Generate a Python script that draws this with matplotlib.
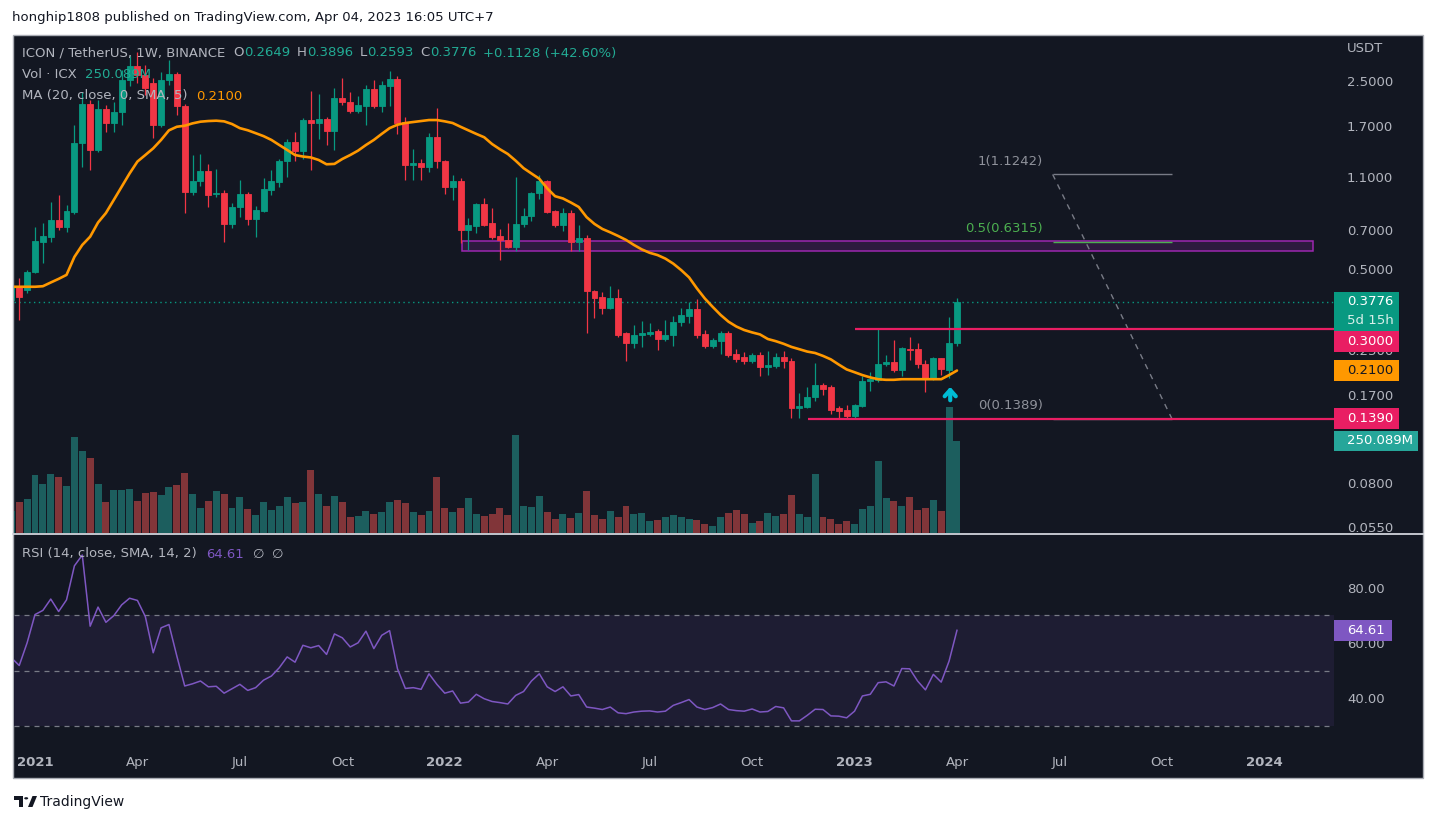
import numpy as np
import pandas as pd
import matplotlib
matplotlib.use("Agg")
import matplotlib.pyplot as plt
import matplotlib.dates as mdates
from matplotlib.patches import Rectangle, Circle, Polygon
from matplotlib.lines import Line2D
from matplotlib.ticker import NullLocator, FixedLocator, FixedFormatter

plt.rcParams['font.family'] = ['DejaVu Sans']

# ---------------- data (weekly ICX/USDT, Binance) ----------------
first_week = "2020-12-14"
opens = [0.385, 0.432, 0.418, 0.486, 0.632, 0.660, 0.761, 0.717, 0.817, 1.467,
         2.05, 1.386, 1.97, 1.74, 1.92, 2.52, 2.85, 2.63, 2.45, 1.72,
         2.52, 2.66, 2.01, 0.97, 1.063, 1.158, 0.951, 0.963, 0.736, 0.848,
         0.951, 0.766, 0.822, 0.984, 1.057, 1.262, 1.484, 1.378, 1.79, 1.74,
         1.80, 1.63, 2.16, 2.09, 1.94, 2.02, 2.34, 2.02, 2.40, 2.54,
         1.76, 1.222, 1.237, 1.20, 1.548, 1.26, 1.012, 1.063, 0.699, 0.722,
         0.873, 0.740, 0.665, 0.642, 0.606, 0.733, 0.785, 0.96, 1.063, 0.82,
         0.729, 0.808, 0.629, 0.65, 0.415, 0.393, 0.36, 0.39, 0.289, 0.266,
         0.284, 0.287, 0.295, 0.275, 0.284, 0.319, 0.336, 0.356, 0.287, 0.259,
         0.271, 0.29, 0.242, 0.235, 0.228, 0.240, 0.217, 0.219, 0.235, 0.228,
         0.152, 0.154, 0.168, 0.185, 0.182, 0.152, 0.150, 0.142, 0.155, 0.192,
         0.194, 0.222, 0.226, 0.211, 0.252, 0.252, 0.223, 0.196, 0.233, 0.211,
         0.2649]
highs = [0.44, 0.462, 0.496, 0.718, 0.742, 0.891, 0.943, 0.866, 1.72, 2.27,
         2.12, 2.12, 2.04, 2.08, 2.75, 3.1, 3.2, 2.87, 2.57, 2.70,
         2.99, 2.70, 2.06, 1.327, 1.338, 1.23, 1.178, 0.984, 0.88, 1.072,
         0.968, 0.858, 1.09, 1.168, 1.283, 1.52, 1.62, 1.82, 2.29, 2.24,
         1.83, 2.35, 2.57, 2.28, 2.20, 2.42, 2.52, 2.51, 2.72, 2.61,
         1.84, 1.397, 1.283, 1.60, 1.99, 1.272, 1.119, 1.09, 0.775, 0.884,
         0.92, 0.843, 0.705, 0.742, 1.10, 0.843, 0.97, 1.119, 1.072, 0.829,
         0.843, 0.83, 0.729, 0.67, 0.42, 0.41, 0.433, 0.422, 0.291, 0.31,
         0.321, 0.315, 0.30, 0.324, 0.335, 0.358, 0.377, 0.388, 0.297, 0.278,
         0.295, 0.295, 0.252, 0.246, 0.244, 0.246, 0.248, 0.243, 0.248, 0.234,
         0.173, 0.183, 0.224, 0.188, 0.185, 0.155, 0.156, 0.158, 0.20, 0.208,
         0.30, 0.240, 0.273, 0.257, 0.280, 0.266, 0.230, 0.236, 0.234, 0.333,
         0.3896]
lows = [0.375, 0.324, 0.408, 0.482, 0.527, 0.632, 0.699, 0.689, 0.80, 1.20,
        1.168, 1.36, 1.615, 1.61, 1.72, 2.4, 2.45, 2.22, 1.535, 1.69,
        2.42, 1.87, 0.81, 0.943, 1.015, 0.852, 0.93, 0.632, 0.71, 0.784,
        0.729, 0.660, 0.817, 0.943, 1.012, 1.10, 1.265, 1.283, 1.168, 1.52,
        1.44, 1.386, 2.04, 1.90, 1.90, 1.72, 1.99, 1.92, 2.01, 1.59,
        1.073, 1.073, 1.073, 1.148, 1.19, 0.952, 0.904, 0.624, 0.589, 0.683,
        0.722, 0.647, 0.541, 0.60, 0.584, 0.717, 0.757, 0.91, 0.81, 0.717,
        0.695, 0.584, 0.584, 0.289, 0.33, 0.34, 0.356, 0.28, 0.228, 0.255,
        0.257, 0.281, 0.250, 0.27, 0.26, 0.308, 0.315, 0.278, 0.255, 0.255,
        0.242, 0.236, 0.225, 0.222, 0.224, 0.20, 0.202, 0.215, 0.215, 0.1405,
        0.1405, 0.152, 0.162, 0.170, 0.145, 0.139, 0.1389, 0.140, 0.154, 0.177,
        0.19, 0.218, 0.207, 0.20, 0.230, 0.215, 0.175, 0.193, 0.203, 0.197,
        0.2593]
closes = [0.430, 0.395, 0.489, 0.637, 0.663, 0.761, 0.717, 0.822, 1.467, 2.05,
          1.386, 1.97, 1.74, 1.92, 2.52, 2.85, 2.63, 2.35, 1.72, 2.52,
          2.66, 2.01, 0.97, 1.063, 1.158, 0.943, 0.963, 0.736, 0.852, 0.951,
          0.766, 0.829, 0.99, 1.063, 1.262, 1.484, 1.378, 1.79, 1.74, 1.80,
          1.63, 2.16, 2.09, 1.94, 2.04, 2.34, 2.02, 2.42, 2.54, 1.75,
          1.219, 1.237, 1.20, 1.548, 1.26, 1.012, 1.063, 0.699, 0.729, 0.873,
          0.729, 0.660, 0.642, 0.606, 0.736, 0.789, 0.963, 1.063, 0.817, 0.729,
          0.808, 0.629, 0.65, 0.413, 0.392, 0.36, 0.39, 0.285, 0.266, 0.285,
          0.289, 0.293, 0.275, 0.285, 0.319, 0.338, 0.356, 0.285, 0.259, 0.273,
          0.29, 0.240, 0.231, 0.228, 0.240, 0.217, 0.220, 0.235, 0.227, 0.152,
          0.155, 0.168, 0.185, 0.180, 0.150, 0.149, 0.142, 0.156, 0.192, 0.196,
          0.222, 0.226, 0.211, 0.255, 0.250, 0.222, 0.196, 0.233, 0.213, 0.2649,
          0.3776]
volumes_m = [60.7, 85.2, 93.3, 158.6, 134.1, 161.3, 153.1, 128.7, 261.9, 223.8,
             204.8, 134.1, 85.2, 117.8, 117.8, 120.5, 87.9, 109.6, 112.4, 104.2,
             126.0, 131.4, 164.0, 106.9, 68.9, 87.9, 115.1, 106.9, 68.9, 98.8,
             66.1, 49.8, 85.2, 63.4, 74.3, 98.8, 82.5, 85.2, 172.2, 106.9,
             74.3, 101.5, 85.2, 44.4, 47.1, 60.7, 52.6, 58.0, 85.2, 90.6,
             82.5, 58.0, 49.8, 60.7, 153.1, 68.9, 58.0, 68.9, 96.0, 52.6,
             47.1, 52.5, 68.8, 49.8, 267.2, 74.3, 71.6, 101.4, 58.0, 38.9,
             52.5, 41.7, 55.3, 115.0, 49.8, 38.9, 60.7, 44.4, 74.3, 52.5,
             55.3, 33.5, 36.2, 44.4, 49.8, 44.4, 38.9, 36.2, 25.4, 19.9,
             44.4, 55.3, 63.4, 52.5, 28.1, 33.5, 55.3, 47.1, 52.5, 104.2,
             52.5, 44.4, 161.2, 44.4, 38.9, 25.4, 33.5, 25.4, 66.1, 74.3,
             196.6, 96.0, 87.9, 74.3, 98.7, 63.4, 68.8, 90.6, 60.7, 342.0,
             250.089]
ma20 = [0.430, 0.430, 0.430, 0.430, 0.432, 0.446, 0.46, 0.476, 0.555, 0.615,
        0.660, 0.745, 0.808, 0.904, 1.012, 1.133, 1.255, 1.327, 1.405, 1.51,
        1.639, 1.69, 1.705, 1.74, 1.765, 1.775, 1.78, 1.77, 1.73, 1.67,
        1.64, 1.60, 1.56, 1.51, 1.446, 1.386, 1.327, 1.31, 1.30, 1.272,
        1.226, 1.23, 1.283, 1.327, 1.378, 1.446, 1.51, 1.59, 1.67, 1.72,
        1.745, 1.76, 1.775, 1.79, 1.79, 1.77, 1.745, 1.69, 1.639, 1.59,
        1.545, 1.458, 1.394, 1.339, 1.264, 1.186, 1.133, 1.083, 0.998, 0.933,
        0.915, 0.884, 0.851, 0.780, 0.736, 0.705, 0.685, 0.664, 0.642, 0.615,
        0.592, 0.575, 0.564, 0.547, 0.524, 0.496, 0.466, 0.424, 0.389, 0.362,
        0.338, 0.319, 0.306, 0.297, 0.291, 0.286, 0.275, 0.270, 0.264, 0.257,
        0.252, 0.247, 0.244, 0.238, 0.231, 0.221, 0.212, 0.207, 0.202, 0.198,
        0.195, 0.194, 0.194, 0.195, 0.195, 0.195, 0.195, 0.195, 0.195, 0.202,
        0.210]
rsi14 = [54.7, 51.9, 60.1, 70.3, 71.8, 75.9, 71.4, 75.6, 87.9, 91.8,
         66.1, 73.0, 67.5, 69.9, 73.8, 76.2, 75.4, 69.6, 56.5, 65.5,
         66.7, 55.3, 44.5, 45.3, 46.3, 44.2, 44.4, 41.9, 43.5, 45.1,
         42.9, 43.9, 46.6, 48.1, 51.1, 55.0, 53.1, 59.2, 58.3, 59.1,
         55.9, 63.3, 61.9, 58.6, 60.1, 64.3, 58.0, 62.8, 64.5, 50.7,
         43.6, 43.9, 43.3, 48.9, 45.1, 41.9, 42.7, 38.3, 38.7, 41.5,
         39.9, 38.9, 38.5, 38.0, 41.1, 42.5, 46.3, 48.9, 44.2, 42.5,
         44.2, 40.9, 41.4, 36.9, 36.5, 36.0, 36.9, 34.8, 34.5, 35.1,
         35.4, 35.5, 35.1, 35.4, 37.5, 38.5, 39.6, 36.9, 36.0, 36.7,
         38.0, 36.0, 35.6, 35.4, 36.2, 35.1, 35.3, 37.1, 36.6, 31.9,
         31.9, 33.9, 36.1, 36.0, 33.7, 33.6, 33.0, 35.4, 40.9, 41.5,
         45.7, 46.0, 44.5, 50.8, 50.7, 46.3, 43.1, 48.7, 45.9, 53.5,
         64.61]

price_ticks = [2.5, 1.7, 1.1, 0.7, 0.5, 0.25, 0.17, 0.08, 0.055]
rsi_ticks = [40, 60, 80]
time_ticks = ["2021-01-04", "2021-04-05", "2021-07-05", "2021-10-04", "2022-01-03",
              "2022-04-04", "2022-07-04", "2022-10-03", "2023-01-02", "2023-04-03",
              "2023-07-03", "2023-10-02", "2024-01-01"]
time_labels = ["2021", "Apr", "Jul", "Oct", "2022", "Apr", "Jul", "Oct", "2023", "Apr",
               "Jul", "Oct", "2024"]

# drawings
zone_start, zone_end = "2022-01-18", "2024-02-13"
zone_low, zone_high = 0.582, 0.636
level_300, level_300_start = 0.3000, "2023-01-02 12:00"
level_139, level_139_start = 0.1390, "2022-11-22"
fib_start, fib_end = "2023-06-27", "2023-10-11"
fib_levels = [1.1242, 0.6315, 0.1389]
fib_names = ["1(1.1242)", "0.5(0.6315)", "0(0.1389)"]
arrow_date, arrow_from, arrow_to = "2023-03-28", 0.159, 0.187
last_price, countdown = 0.3776, "5d 15h"
ma_last, vol_last, rsi_last = 0.2100, 250.089, 64.61

# ---------------- style ----------------
W, H, DPI = 1437, 823, 100
BG = "#131722"
UP, DN = "#089981", "#f23645"
VUP, VDN = "#1c5e5e", "#813539"
TXT = "#b2b5be"
PINK = "#e91e63"
FS = 9.5

fig = plt.figure(figsize=(W / DPI, H / DPI), dpi=DPI)
fig.patch.set_facecolor("white")


def fx(px):
    return px / W


def fy(py):
    return 1 - py / H


# chart frame
fig.add_artist(Rectangle((fx(13), fy(778)), (1423 - 13) / W, (778 - 35) / H,
                         transform=fig.transFigure, facecolor=BG,
                         edgecolor="#a9acb4", lw=1.0, zorder=-5))

L, R = 14, 1334
P_TOP, P_BOT = 35, 533
R_TOP, R_BOT = 534, 748
rect_p = [fx(L), fy(P_BOT), (R - L) / W, (P_BOT - P_TOP) / H]
rect_r = [fx(L), fy(R_BOT), (R - L) / W, (R_BOT - R_TOP) / H]

ax_v = fig.add_axes(rect_p)
ax_p = fig.add_axes(rect_p)
ax_r = fig.add_axes(rect_r)
for a in (ax_v, ax_p, ax_r):
    a.set_facecolor("none")
    for s in a.spines.values():
        s.set_visible(False)

weeks = pd.date_range(first_week, periods=len(closes), freq="7D")
x = mdates.date2num(weeks)
o, h, l, c = map(np.array, (opens, highs, lows, closes))
up = c >= o

x_left = mdates.date2num(pd.Timestamp("2020-12-16 08:24"))
x_right = mdates.date2num(pd.Timestamp("2024-03-02 22:00"))
for a in (ax_v, ax_p, ax_r):
    a.set_xlim(x_left, x_right)

# volume
ax_v.bar(x, volumes_m, width=6.2, color=np.where(up, VUP, VDN), zorder=1)
ax_v.set_ylim(0, 1353)
ax_v.axis("off")

# price
ax_p.set_yscale("log")
ax_p.set_ylim(0.05232, 3.705)
col = np.where(up, UP, DN)
ax_p.vlines(x, l, h, colors=col, lw=0.9, zorder=3)
ax_p.bar(x, np.abs(c - o), bottom=np.minimum(o, c), width=5.3, color=col,
         edgecolor=col, linewidth=0.6, zorder=4)
ax_p.plot(x, ma20, color="#ff9800", lw=1.9, zorder=5, solid_capstyle="round")
ax_p.axhline(last_price, color=UP, lw=1.0, ls=(0, (1, 2.5)), zorder=2)

# zone box
zs, ze = mdates.date2num(pd.Timestamp(zone_start)), mdates.date2num(pd.Timestamp(zone_end))
ax_p.add_patch(Rectangle((zs, zone_low), ze - zs, zone_high - zone_low,
                         facecolor="#2d1a3e", edgecolor="#9c27b0", lw=1.1, zorder=2))

# horizontal pink levels
ax_p.hlines(level_300, mdates.date2num(pd.Timestamp(level_300_start)), x_right,
            color=PINK, lw=1.6, zorder=6)
ax_p.hlines(level_139, mdates.date2num(pd.Timestamp(level_139_start)), x_right,
            color=PINK, lw=1.6, zorder=6)

# fib retracement
f0, f1 = mdates.date2num(pd.Timestamp(fib_start)), mdates.date2num(pd.Timestamp(fib_end))
fib_cols = ["#787b86", "#4caf50", "#787b86"]
for lv, nm, fc in zip(fib_levels, fib_names, fib_cols):
    ax_p.hlines(lv, f0, f1, color=fc, lw=1.0, zorder=5)
    ax_p.annotate(nm, xy=(f0, lv), xytext=(-10, 13), textcoords="offset pixels",
                  ha="right", va="center", color=fc if fc != "#787b86" else "#8f929b",
                  fontsize=FS, zorder=7)
ax_p.plot([f0, f1], [fib_levels[0], fib_levels[2]], color="#787b86", lw=1.0,
          ls=(0, (4, 4)), zorder=5)

# arrow
ad = mdates.date2num(pd.Timestamp(arrow_date))
ax_p.annotate("", xy=(ad, arrow_to), xytext=(ad, arrow_from),
              arrowprops=dict(arrowstyle="->,head_length=0.45,head_width=0.4",
                              color="#00bcd4", lw=3.0), zorder=7)

# price axis ticks
ax_p.yaxis.set_major_locator(FixedLocator(price_ticks))
ax_p.yaxis.set_major_formatter(FixedFormatter([f"{t:.4f}" for t in price_ticks]))
ax_p.yaxis.set_minor_locator(NullLocator())
ax_p.yaxis.tick_right()
ax_p.tick_params(axis="y", length=0, pad=9.4, labelsize=FS, labelcolor=TXT)
ax_p.tick_params(axis="x", bottom=False, labelbottom=False)

# RSI
ax_r.axhspan(30, 70, color="#1e1d33", zorder=0, lw=0)
for v in (70, 50, 30):
    ax_r.axhline(v, color="#787b86", lw=0.9, ls=(0, (4, 4)), zorder=1)
ax_r.plot(x, rsi14, color="#7e57c2", lw=1.1, zorder=3)
ax_r.set_ylim(22.1, 99.4)
ax_r.yaxis.set_major_locator(FixedLocator(rsi_ticks))
ax_r.yaxis.set_major_formatter(FixedFormatter([f"{t:.2f}" for t in rsi_ticks]))
ax_r.yaxis.tick_right()
ax_r.tick_params(axis="y", length=0, pad=9.4, labelsize=FS, labelcolor=TXT)
ax_r.set_xticks(mdates.date2num(pd.to_datetime(time_ticks)))
ax_r.set_xticklabels(time_labels)
ax_r.tick_params(axis="x", length=0, pad=6, labelsize=FS, labelcolor=TXT)
for lab in ax_r.get_xticklabels():
    if lab.get_text().isdigit():
        lab.set_fontweight("bold")

# pane separator
fig.add_artist(Line2D([fx(13), fx(1423)], [fy(533.5), fy(533.5)],
                      transform=fig.transFigure, color="#d1d4dc", lw=1.3, zorder=2))


def ypix(ax, val):
    return H - ax.transData.transform((x_left, val))[1]


def tag(top, bottom, fc, x1=1399):
    fig.add_artist(Rectangle((fx(1334), fy(bottom)), (x1 - 1334) / W, (bottom - top) / H,
                             transform=fig.transFigure, facecolor=fc, edgecolor="none",
                             zorder=5))


def tag_text(py, s, color="white", **kw):
    fig.text(fx(1347), fy(py), s, color=color, fontsize=FS, va="center", ha="left",
             zorder=6, **kw)


# axis tags
yc = ypix(ax_p, last_price)
tag(yc - 10, yc + 29, UP)
tag_text(yc, f"{last_price:.4f}")
tag_text(yc + 19, countdown, color="#d8efea")
bottom_prev = yc + 29

yc = ypix(ax_p, level_300)
top = max(yc - 10.5, bottom_prev)
tag(top, top + 20.7, PINK)
tag_text(top + 10.3, f"{level_300:.4f}")

yc = ypix(ax_p, ma_last)
tag(yc - 10.3, yc + 10.3, "#ff9800")
tag_text(yc, f"{ma_last:.4f}", color=BG)

yc = ypix(ax_p, level_139)
tag(yc - 10.3, yc + 10.3, PINK)
tag_text(yc, f"{level_139:.4f}")
bottom_prev = yc + 10.3

yc = H - ax_v.transData.transform((x_left, vol_last))[1]
top = max(yc - 10.3, bottom_prev)
tag(top, top + 20.7, "#26a69a", x1=1418)
tag_text(top + 10.3, f"{vol_last:.3f}M")

yc = ypix(ax_r, rsi_last)
tag(yc - 10.5, yc + 10.5, "#7e57c2", x1=1392)
tag_text(yc, f"{rsi_last:.2f}")

fig.text(fx(1347), fy(49), "USDT", color=TXT, fontsize=FS, va="center", ha="left")

# legends / headers
renderer = fig.canvas.get_renderer()


def chain(px, py, pieces):
    for s, colr, gap in pieces:
        t = fig.text(fx(px), fy(py), s, color=colr, fontsize=FS, va="center", ha="left",
                     zorder=6)
        px += t.get_window_extent(renderer=renderer).width + gap


GREEN_T = "#22ab94"
chain(22, 53, [("ICON / TetherUS, 1W, BINANCE", TXT, 8), ("O", TXT, 0), ("0.2649", GREEN_T, 7),
               ("H", TXT, 0), ("0.3896", GREEN_T, 7), ("L", TXT, 0), ("0.2593", GREEN_T, 7),
               ("C", TXT, 0), ("0.3776", GREEN_T, 7), ("+0.1128 (+42.60%)", GREEN_T, 0)])
chain(22, 75, [("Vol · ICX", TXT, 8), ("250.089M", GREEN_T, 0)])
chain(22, 96, [("MA (20, close, 0, SMA, 5)", TXT, 9), ("0.2100", "#ff9800", 0)])
chain(22, 554, [("RSI (14, close, SMA, 14, 2)", TXT, 9), ("64.61", "#7e57c2", 9),
                ("∅", TXT, 8), ("∅", TXT, 0)])

# page title & footer
fig.text(fx(12), fy(18), "honghip1808 published on TradingView.com, Apr 04, 2023 16:05 UTC+7",
         color="#131722", fontsize=FS, va="center", ha="left")
fig.add_artist(Rectangle((fx(14), fy(800)), 9 / W, 4 / H, transform=fig.transFigure,
                         facecolor="#131722", edgecolor="none"))
fig.add_artist(Rectangle((fx(18.5), fy(807)), 4.5 / W, 11 / H, transform=fig.transFigure,
                         facecolor="#131722", edgecolor="none"))
fig.add_artist(Polygon([(fx(28), fy(807)), (fx(32.5), fy(796)), (fx(37), fy(796)),
                        (fx(32.5), fy(807))], closed=True, transform=fig.transFigure,
                       facecolor="#131722", edgecolor="none"))
fig.add_artist(Circle((fx(26.2), fy(798.3)), 2.0 / W, transform=fig.transFigure,
                      facecolor="#131722", edgecolor="none"))
fig.text(fx(40), fy(802), "TradingView", color="#131722", fontsize=10, va="center", ha="left")

fig.savefig("out.png", dpi=DPI, facecolor="white")
